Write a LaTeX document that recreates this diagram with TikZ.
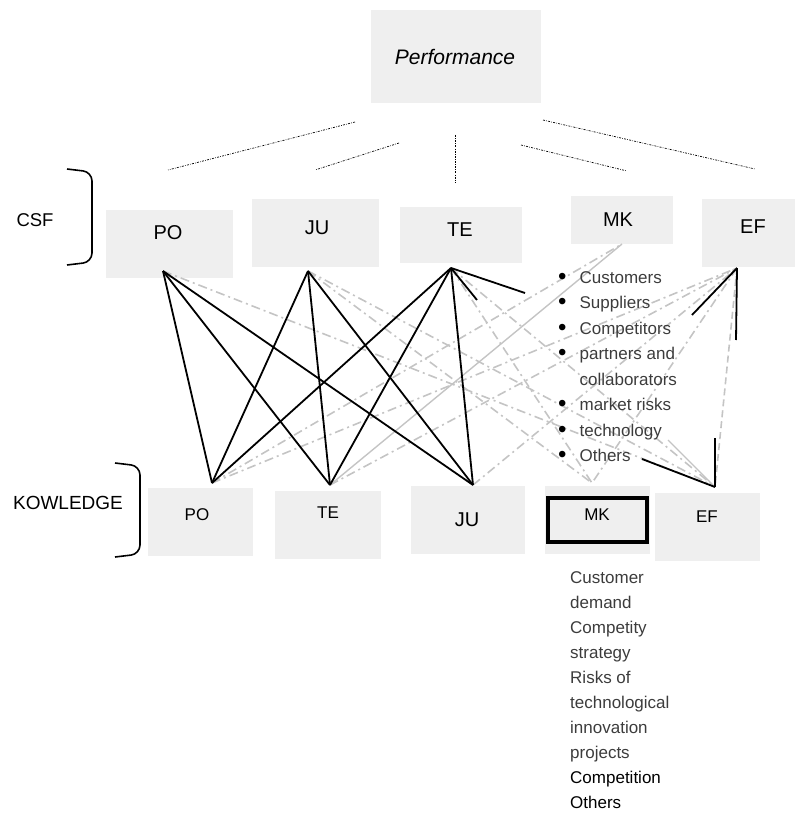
\documentclass[tikz,border=0pt]{standalone}
\usepackage{fontspec}
\setmainfont{Liberation Sans}
\definecolor{boxgray}{HTML}{EFEFEF}
\definecolor{webgray}{HTML}{C4C4C4}
\definecolor{txtgray}{HTML}{3C3C3C}
\newcommand{\mkbullet}{{\color{black}\fontsize{24}{24}\selectfont\raisebox{-1pt}{•}}}
\begin{document}
\begin{tikzpicture}[x=1pt,y=-1pt,
    box/.style={fill=boxgray, inner sep=0pt},
    lbl/.style={inner sep=0pt, font=\fontsize{20}{24}\selectfont},
    slbl/.style={inner sep=0pt, font=\fontsize{17}{20}\selectfont},
    perfline/.style={line width=0.7pt, dash pattern=on 2pt off 1.3pt on 0.6pt off 1.3pt},
    blackline/.style={line width=1.8pt},
    webline/.style={webgray, line width=1.6pt, dash pattern=on 9pt off 4pt on 2pt off 4pt},
    websolid/.style={webgray, line width=1.4pt},
    bracket/.style={line width=1.6pt, rounded corners=9pt}]
    \useasboundingbox (0,0) rectangle (795,818);
    % boxes
    \node[box, minimum width=170pt, minimum height=93pt] (perf) at (456,56.5) {};
    \node[box, minimum width=127pt, minimum height=68pt] (poC) at (169.5,244) {};
    \node[box, minimum width=127pt, minimum height=68pt] (juC) at (315.5,233) {};
    \node[box, minimum width=122pt, minimum height=56pt] (teC) at (461,235) {};
    \node[box, minimum width=102pt, minimum height=48pt] (mkC) at (622,220) {};
    \node[box, minimum width=93pt, minimum height=68pt] (efC) at (748.5,233) {};
    \node[box, minimum width=105pt, minimum height=68pt] (poK) at (200.5,522) {};
    \node[box, minimum width=106pt, minimum height=68pt] (teK) at (328,525) {};
    \node[box, minimum width=114pt, minimum height=68pt] (juK) at (468,520) {};
    \node[box, minimum width=105pt, minimum height=68pt] (mkK) at (597.5,520) {};
    \node[box, minimum width=105pt, minimum height=68pt] (efK) at (707.5,527) {};
    \node[draw, line width=4pt, inner sep=0pt, minimum width=99pt, minimum height=44pt] (mkKframe) at (597.5,520) {};
    % labels in boxes
    \node[lbl, font=\fontsize{21}{24}\selectfont\itshape] (perfT) at (455,57) {Performance};
    \node[lbl] (poCT) at (168,233) {PO};
    \node[lbl] (juCT) at (317,228) {JU};
    \node[lbl] (teCT) at (460,230) {TE};
    \node[lbl] (mkCT) at (618,220) {MK};
    \node[lbl] (efCT) at (753,227) {EF};
    \node[slbl] (poKT) at (197,515) {PO};
    \node[slbl] (teKT) at (328,513) {TE};
    \node[lbl] (juKT) at (467,520) {JU};
    \node[slbl] (mkKT) at (597,515) {MK};
    \node[slbl] (efKT) at (707,517) {EF};
    % side labels and brackets
    \node[lbl, font=\fontsize{18.5}{22}\selectfont] (csf) at (35,220) {CSF};
    \node[lbl, font=\fontsize{19}{22}\selectfont] (know) at (68,503) {KOWLEDGE};
    \draw[bracket] (67,169) -- (92,172) -- (92,262) -- (67,265);
    \draw[bracket] (115,463) -- (140,466) -- (140,554) -- (115,557);
    % dotted lines under Performance
    \coordinate (d1a) at (355,122); \coordinate (d1b) at (168,170);
    \coordinate (d2a) at (399,143); \coordinate (d2b) at (315,170);
    \coordinate (d3a) at (455,135); \coordinate (d3b) at (455,182);
    \coordinate (d4a) at (521,145); \coordinate (d4b) at (627,171);
    \coordinate (d5a) at (543,120); \coordinate (d5b) at (755,169);
    \foreach \i in {1,...,5}
        \draw[perfline] (d\i a) -- (d\i b);
    % connection points
    \coordinate (poCb) at (163,271);
    \coordinate (juCb) at (308,271);
    \coordinate (teCb) at (451,268);
    \coordinate (mkCb) at (622,244);
    \coordinate (efCb) at (737,268);
    \coordinate (poKt) at (212,483);
    \coordinate (teKt) at (330,485);
    \coordinate (juKt) at (473,485);
    \coordinate (mkKt) at (592,483);
    \coordinate (efKt) at (715,487);
    % grey web
    \draw[webline] (poCb) -- (efKt);
    \draw[webline] (juCb) -- (efKt);
    \draw[webline] (juCb) -- (mkKt);
    \draw[webline] (teCb) -- (mkKt);
    \draw[webline] (teCb) -- (efKt);
    \draw[webline] (poKt) -- (mkCb);
    \draw[webline] (poKt) -- (efCb);
    \draw[webline] (teKt) -- (efCb);
    \draw[websolid] (teKt) -- (mkCb);
    \draw[webline] (juKt) -- (efCb);
    \draw[webline] (efCb) -- (mkKt);
    \draw[webline, dash pattern=on 7pt off 4pt] (efCb) -- (efKt);
    \coordinate (techEnd) at (668,440);
    \draw[websolid] (efKt) -- (techEnd);
    % black lines
    \foreach \s in {poCb,juCb,teCb}
        \foreach \t in {poKt,teKt,juKt}
            \draw[blackline] (\s) -- (\t);
    \coordinate (teS1) at (525,293); \coordinate (teS2) at (477,300);
    \draw[blackline] (teCb) -- (teS1);
    \draw[blackline] (teCb) -- (teS2);
    \coordinate (efS1) at (692,315); \coordinate (efS2) at (736,340);
    \draw[blackline] (efCb) -- (efS1);
    \draw[blackline] (efCb) -- (efS2);
    \coordinate (efS3) at (715,438); \coordinate (othEnd) at (642,459);
    \draw[blackline] (efKt) -- (efS3);
    \draw[blackline] (efKt) -- (othEnd);
    % lists
    \node[inner sep=0pt, anchor=north west, text=txtgray, font=\fontsize{17}{25.5}\selectfont] (mkCList) at (558,265)
        {\begin{tabular}{@{}l@{\hspace{13pt}}l@{}}
         \mkbullet & Customers\\
         \mkbullet & Suppliers\\
         \mkbullet & Competitors\\
         \mkbullet & partners and\\
          & collaborators\\
         \mkbullet & market risks\\
         \mkbullet & technology\\
         \mkbullet & Others
         \end{tabular}};
    \node[inner sep=0pt, anchor=north west, text=txtgray, align=left, font=\fontsize{17}{25}\selectfont] (mkKList) at (570,571.5)
        {Customer\\ demand\\ Competity\\ strategy\\ Risks of\\ technological\\ innovation\\ projects\\
         \textcolor{black}{Competition}\\ \textcolor{black}{Others}};
\end{tikzpicture}
\end{document}
